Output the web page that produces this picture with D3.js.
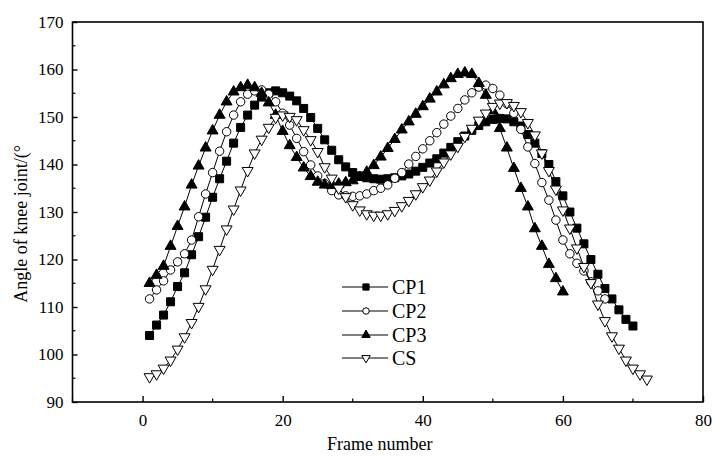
<!DOCTYPE html>
<html><head><meta charset="utf-8">
<script src="https://cdn.jsdelivr.net/npm/d3@7"></script>
<style>html,body{margin:0;padding:0;background:#fff;} svg{display:block;}</style>
</head><body>
<svg id="chart" width="712" height="460"></svg>
<script>
const cp1 = [104.0,106.2,108.3,111.1,114.3,117.2,121.0,124.8,128.9,133.1,137.0,140.7,144.5,147.8,150.4,152.5,154.2,155.1,155.5,155.1,154.4,153.4,151.8,149.9,147.6,145.2,143.0,141.0,139.5,138.3,137.6,137.2,137.0,136.9,137.0,137.2,137.6,138.0,138.6,139.4,140.3,141.2,142.4,143.6,144.8,146.0,147.2,148.2,149.0,149.5,149.7,149.6,149.0,148.1,146.3,144.5,142.3,140.0,136.4,133.4,130.0,126.6,123.3,120.0,116.9,113.9,111.7,109.4,107.4,106.0];
const cp2 = [111.7,113.6,115.5,117.8,119.5,121.2,124.1,129.0,133.8,138.3,142.8,146.9,150.4,153.2,154.8,155.5,155.7,154.8,153.2,150.8,148.3,145.5,142.7,139.9,137.6,136.0,134.5,133.6,133.4,133.3,133.4,133.8,134.5,135.0,135.7,137.1,138.3,140.1,141.7,143.3,145.0,146.7,148.5,150.2,151.8,153.6,155.1,156.3,156.7,156.0,154.6,152.8,150.8,147.4,143.7,140.2,136.2,132.5,128.3,124.1,121.2,119.2,117.6,115.3,113.4,111.7];
const cp3 = [115.0,116.7,118.6,122.8,127.0,131.1,135.7,139.7,143.5,147.1,150.4,153.2,155.3,156.2,156.7,156.2,155.0,153.0,150.4,147.0,144.0,141.5,139.3,137.5,136.3,135.7,135.6,135.9,136.2,136.6,137.3,138.4,139.8,141.6,143.4,145.3,147.3,149.0,150.6,152.2,153.8,155.3,156.8,158.1,159.0,159.3,159.0,157.1,154.6,151.3,147.6,143.5,139.2,135.0,131.1,126.5,122.8,119.0,116.0,113.2];
const cs  = [95.3,95.9,97.1,98.8,101.1,103.7,106.7,110.1,113.8,117.9,122.1,126.4,130.6,134.6,138.7,142.4,145.3,147.8,149.9,150.4,150.1,149.4,147.3,145.2,142.7,139.5,137.1,135.0,133.2,131.5,130.4,129.6,129.3,129.3,129.6,130.3,131.3,132.4,133.8,135.3,136.7,138.6,140.5,142.2,143.8,145.9,147.6,149.3,150.8,152.2,152.9,153.0,152.4,151.1,148.8,146.2,142.4,138.7,134.8,130.4,126.6,122.4,118.5,115.1,110.6,107.1,103.9,101.3,98.8,97.1,95.9,94.8];
const seriesNames = ["CP1","CP2","CP3","CS"];
const xTicks = [0,20,40,60,80];
const yTicks = [90,100,110,120,130,140,150,160,170];

const svg = d3.select("#chart");
const L = 72.5, R = 703, T = 22, B = 402;
const x = d3.scaleLinear().domain([-10,80]).range([L,R]);
const y = d3.scaleLinear().domain([90,170]).range([B,T]);
const font = "'Liberation Serif','Times New Roman',serif";

const series = [
  {name:"CP1", vals:cp1, sym:d3.symbolSquare, size:64, fill:"#000"},
  {name:"CP2", vals:cp2, sym:d3.symbolCircle, size:56, fill:"#fff"},
  {name:"CP3", vals:cp3, sym:d3.symbolTriangle, size:52, fill:"#000"},
  {name:"CS",  vals:cs,  sym:d3.symbolTriangle, size:52, fill:"#fff", flip:true}
];

const line = d3.line().x(d=>x(d[0])).y(d=>y(d[1]));
series.forEach(s=>{
  const pts = s.vals.map((v,i)=>[i+1,v]);
  svg.append("path").attr("d",line(pts)).attr("fill","none").attr("stroke","#000").attr("stroke-width",1);
  const sym = d3.symbol().type(s.sym).size(s.size);
  svg.append("g").selectAll("path").data(pts).join("path")
    .attr("d",sym)
    .attr("transform",d=>`translate(${x(d[0])},${y(d[1])})${s.flip?" rotate(180)":""}`)
    .attr("fill",s.fill).attr("stroke","#000").attr("stroke-width",1);
});

// frame
svg.append("rect").attr("x",L).attr("y",T).attr("width",R-L).attr("height",B-T)
  .attr("fill","none").attr("stroke","#000").attr("stroke-width",1.6);

// y axis
const yAxis = d3.axisLeft(y).tickValues(yTicks).tickSize(-5).tickPadding(9).tickFormat(d3.format("d"));
const gy = svg.append("g").attr("transform",`translate(${L},0)`).call(yAxis);
gy.select(".domain").remove();
gy.selectAll(".tick line").attr("stroke-width",1.4);
gy.selectAll("text").attr("font-family",font).attr("font-size",17).attr("fill","#000").attr("dx","0");
const yMinor = d3.range(95,170,10);
svg.append("g").selectAll("line").data(yMinor).join("line")
  .attr("x1",L).attr("x2",L+3).attr("y1",d=>y(d)).attr("y2",d=>y(d)).attr("stroke","#000").attr("stroke-width",1.2);

// x axis
const xAxis = d3.axisBottom(x).tickValues(xTicks).tickSize(-6).tickPadding(12).tickFormat(d3.format("d"));
const gx = svg.append("g").attr("transform",`translate(0,${B})`).call(xAxis);
gx.select(".domain").remove();
gx.selectAll(".tick line").attr("stroke-width",1.4);
gx.selectAll("text").attr("font-family",font).attr("font-size",17).attr("fill","#000");
const xMinor = [-10,10,30,50,70];
svg.append("g").selectAll("line").data(xMinor).join("line")
  .attr("x1",d=>x(d)).attr("x2",d=>x(d)).attr("y1",B).attr("y2",B-3.5).attr("stroke","#000").attr("stroke-width",1.2);

// labels
svg.append("text").attr("x",(L+R)/2 - 8).attr("y",450).attr("text-anchor","middle")
  .attr("font-family",font).attr("font-size",18).text("Frame number");
svg.append("text").attr("transform",`translate(27,224) rotate(-90)`).attr("text-anchor","middle")
  .attr("font-family",font).attr("font-size",18).text("Angle of knee joint/(°");

// legend
const legY = [287,311,335,358];
series.forEach((s,i)=>{
  const g = svg.append("g").attr("transform",`translate(0,${legY[i]})`);
  g.append("line").attr("x1",342).attr("x2",388).attr("y1",0).attr("y2",0).attr("stroke","#000").attr("stroke-width",1);
  g.append("path").attr("d",d3.symbol().type(s.sym).size(s.size*0.6)())
    .attr("transform",`translate(366,0)${s.flip?" rotate(180)":""}`)
    .attr("fill",s.fill).attr("stroke","#000").attr("stroke-width",1);
  g.append("text").attr("x",392).attr("y",7).attr("font-family",font).attr("font-size",20).text(s.name);
});
</script>
</body></html>
